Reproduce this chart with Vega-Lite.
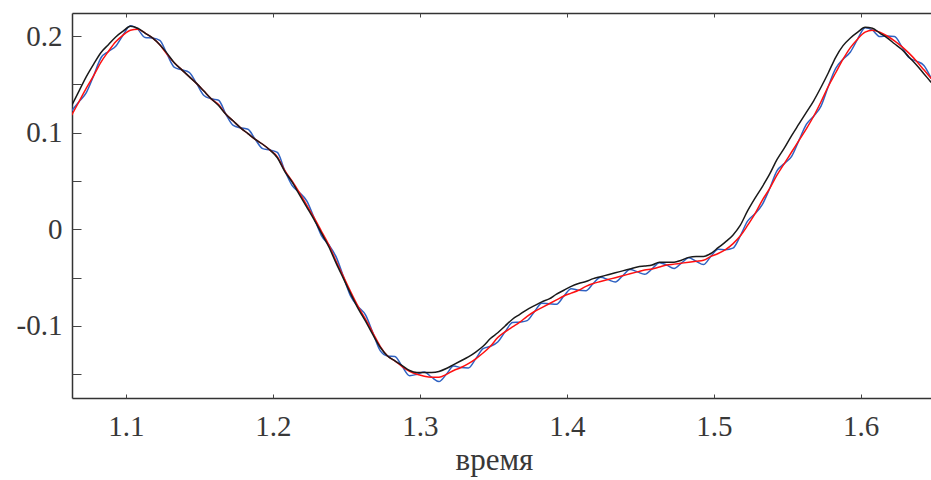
{
  "$schema": "https://vega.github.io/schema/vega-lite/v6.json",
  "width": 859,
  "height": 385,
  "autosize": "none",
  "padding": {"left": 72, "top": 13, "right": 0, "bottom": 82},
  "background": "white",
  "datasets": {
    "blue": [
      {"t":1.063,"v":0.1225},{"t":1.068,"v":0.132},{"t":1.073,"v":0.1415},{"t":1.078,"v":0.159},
      {"t":1.083,"v":0.1775},{"t":1.088,"v":0.184},{"t":1.093,"v":0.1895},{"t":1.098,"v":0.201},
      {"t":1.103,"v":0.2105},{"t":1.108,"v":0.207},{"t":1.113,"v":0.1985},{"t":1.118,"v":0.198},
      {"t":1.123,"v":0.1955},{"t":1.128,"v":0.181},{"t":1.133,"v":0.1675},{"t":1.138,"v":0.165},
      {"t":1.143,"v":0.1625},{"t":1.148,"v":0.151},{"t":1.153,"v":0.1385},{"t":1.158,"v":0.135},
      {"t":1.163,"v":0.1335},{"t":1.168,"v":0.119},{"t":1.173,"v":0.1075},{"t":1.178,"v":0.105},
      {"t":1.183,"v":0.1035},{"t":1.188,"v":0.093},{"t":1.193,"v":0.0835},{"t":1.198,"v":0.082},
      {"t":1.203,"v":0.0795},{"t":1.208,"v":0.061},{"t":1.213,"v":0.0455},{"t":1.218,"v":0.038},
      {"t":1.223,"v":0.0295},{"t":1.228,"v":0.012},{"t":1.233,"v":-0.0065},{"t":1.238,"v":-0.016},
      {"t":1.243,"v":-0.0285},{"t":1.248,"v":-0.049},{"t":1.253,"v":-0.0695},{"t":1.258,"v":-0.080},
      {"t":1.263,"v":-0.0885},{"t":1.268,"v":-0.107},{"t":1.273,"v":-0.1255},{"t":1.278,"v":-0.131},
      {"t":1.283,"v":-0.1315},{"t":1.288,"v":-0.142},{"t":1.293,"v":-0.1515},{"t":1.298,"v":-0.150},
      {"t":1.303,"v":-0.1475},{"t":1.308,"v":-0.153},{"t":1.313,"v":-0.1575},{"t":1.318,"v":-0.150},
      {"t":1.323,"v":-0.1415},{"t":1.328,"v":-0.143},{"t":1.333,"v":-0.1435},{"t":1.338,"v":-0.134},
      {"t":1.343,"v":-0.1235},{"t":1.348,"v":-0.121},{"t":1.353,"v":-0.1165},{"t":1.358,"v":-0.106},
      {"t":1.363,"v":-0.0965},{"t":1.368,"v":-0.096},{"t":1.373,"v":-0.0945},{"t":1.378,"v":-0.085},
      {"t":1.383,"v":-0.0765},{"t":1.388,"v":-0.077},{"t":1.393,"v":-0.0775},{"t":1.398,"v":-0.069},
      {"t":1.403,"v":-0.0615},{"t":1.408,"v":-0.063},{"t":1.413,"v":-0.0635},{"t":1.418,"v":-0.056},
      {"t":1.423,"v":-0.0495},{"t":1.428,"v":-0.052},{"t":1.433,"v":-0.0545},{"t":1.438,"v":-0.048},
      {"t":1.443,"v":-0.0415},{"t":1.448,"v":-0.044},{"t":1.453,"v":-0.0465},{"t":1.458,"v":-0.041},
      {"t":1.463,"v":-0.0345},{"t":1.468,"v":-0.037},{"t":1.473,"v":-0.0405},{"t":1.478,"v":-0.035},
      {"t":1.483,"v":-0.0295},{"t":1.488,"v":-0.033},{"t":1.493,"v":-0.0365},{"t":1.498,"v":-0.028},
      {"t":1.503,"v":-0.0205},{"t":1.508,"v":-0.021},{"t":1.513,"v":-0.0195},{"t":1.518,"v":-0.007},
      {"t":1.523,"v":0.0085},{"t":1.528,"v":0.016},{"t":1.533,"v":0.0255},{"t":1.538,"v":0.042},
      {"t":1.543,"v":0.0605},{"t":1.548,"v":0.068},{"t":1.553,"v":0.0755},{"t":1.558,"v":0.092},
      {"t":1.563,"v":0.1085},{"t":1.568,"v":0.117},{"t":1.573,"v":0.1275},{"t":1.578,"v":0.148},
      {"t":1.583,"v":0.1665},{"t":1.588,"v":0.176},{"t":1.593,"v":0.1835},{"t":1.598,"v":0.197},
      {"t":1.603,"v":0.2085},{"t":1.608,"v":0.206},{"t":1.613,"v":0.1995},{"t":1.618,"v":0.200},
      {"t":1.623,"v":0.1995},{"t":1.628,"v":0.189},{"t":1.633,"v":0.1775},{"t":1.638,"v":0.174},
      {"t":1.643,"v":0.1695},{"t":1.648,"v":0.156}
    ],
    "red": [
      {"t":1.063,"v":0.118},{"t":1.068,"v":0.132},{"t":1.073,"v":0.146},{"t":1.078,"v":0.159},
      {"t":1.083,"v":0.173},{"t":1.088,"v":0.184},{"t":1.093,"v":0.194},{"t":1.098,"v":0.201},
      {"t":1.103,"v":0.206},{"t":1.108,"v":0.207},{"t":1.113,"v":0.203},{"t":1.118,"v":0.198},
      {"t":1.123,"v":0.191},{"t":1.128,"v":0.181},{"t":1.133,"v":0.172},{"t":1.138,"v":0.165},
      {"t":1.143,"v":0.158},{"t":1.148,"v":0.151},{"t":1.153,"v":0.143},{"t":1.158,"v":0.135},
      {"t":1.163,"v":0.129},{"t":1.168,"v":0.119},{"t":1.173,"v":0.112},{"t":1.178,"v":0.105},
      {"t":1.183,"v":0.099},{"t":1.188,"v":0.093},{"t":1.193,"v":0.088},{"t":1.198,"v":0.082},
      {"t":1.203,"v":0.075},{"t":1.208,"v":0.061},{"t":1.213,"v":0.050},{"t":1.218,"v":0.038},
      {"t":1.223,"v":0.025},{"t":1.228,"v":0.012},{"t":1.233,"v":-0.002},{"t":1.238,"v":-0.016},
      {"t":1.243,"v":-0.033},{"t":1.248,"v":-0.049},{"t":1.253,"v":-0.065},{"t":1.258,"v":-0.080},
      {"t":1.263,"v":-0.093},{"t":1.268,"v":-0.107},{"t":1.273,"v":-0.121},{"t":1.278,"v":-0.131},
      {"t":1.283,"v":-0.136},{"t":1.288,"v":-0.142},{"t":1.293,"v":-0.147},{"t":1.298,"v":-0.150},
      {"t":1.303,"v":-0.152},{"t":1.308,"v":-0.153},{"t":1.313,"v":-0.153},{"t":1.318,"v":-0.150},
      {"t":1.323,"v":-0.146},{"t":1.328,"v":-0.143},{"t":1.333,"v":-0.139},{"t":1.338,"v":-0.134},
      {"t":1.343,"v":-0.128},{"t":1.348,"v":-0.121},{"t":1.353,"v":-0.112},{"t":1.358,"v":-0.106},
      {"t":1.363,"v":-0.101},{"t":1.368,"v":-0.096},{"t":1.373,"v":-0.090},{"t":1.378,"v":-0.085},
      {"t":1.383,"v":-0.081},{"t":1.388,"v":-0.077},{"t":1.393,"v":-0.073},{"t":1.398,"v":-0.069},
      {"t":1.403,"v":-0.066},{"t":1.408,"v":-0.063},{"t":1.413,"v":-0.059},{"t":1.418,"v":-0.056},
      {"t":1.423,"v":-0.054},{"t":1.428,"v":-0.052},{"t":1.433,"v":-0.050},{"t":1.438,"v":-0.048},
      {"t":1.443,"v":-0.046},{"t":1.448,"v":-0.044},{"t":1.453,"v":-0.042},{"t":1.458,"v":-0.041},
      {"t":1.463,"v":-0.039},{"t":1.468,"v":-0.037},{"t":1.473,"v":-0.036},{"t":1.478,"v":-0.035},
      {"t":1.483,"v":-0.034},{"t":1.488,"v":-0.033},{"t":1.493,"v":-0.032},{"t":1.498,"v":-0.028},
      {"t":1.503,"v":-0.025},{"t":1.508,"v":-0.021},{"t":1.513,"v":-0.015},{"t":1.518,"v":-0.007},
      {"t":1.523,"v":0.004},{"t":1.528,"v":0.016},{"t":1.533,"v":0.030},{"t":1.538,"v":0.042},
      {"t":1.543,"v":0.056},{"t":1.548,"v":0.068},{"t":1.553,"v":0.080},{"t":1.558,"v":0.092},
      {"t":1.563,"v":0.104},{"t":1.568,"v":0.117},{"t":1.573,"v":0.132},{"t":1.578,"v":0.148},
      {"t":1.583,"v":0.162},{"t":1.588,"v":0.176},{"t":1.593,"v":0.188},{"t":1.598,"v":0.197},
      {"t":1.603,"v":0.204},{"t":1.608,"v":0.206},{"t":1.613,"v":0.204},{"t":1.618,"v":0.200},
      {"t":1.623,"v":0.195},{"t":1.628,"v":0.189},{"t":1.633,"v":0.182},{"t":1.638,"v":0.174},
      {"t":1.643,"v":0.165},{"t":1.648,"v":0.156}
    ],
    "black": [
      {"t":1.063,"v":0.128},{"t":1.068,"v":0.143},{"t":1.073,"v":0.158},{"t":1.078,"v":0.171},
      {"t":1.083,"v":0.183},{"t":1.088,"v":0.191},{"t":1.093,"v":0.199},{"t":1.098,"v":0.205},
      {"t":1.103,"v":0.210},{"t":1.108,"v":0.208},{"t":1.113,"v":0.203},{"t":1.118,"v":0.198},
      {"t":1.123,"v":0.191},{"t":1.128,"v":0.182},{"t":1.133,"v":0.172},{"t":1.138,"v":0.165},
      {"t":1.143,"v":0.158},{"t":1.148,"v":0.151},{"t":1.153,"v":0.143},{"t":1.158,"v":0.135},
      {"t":1.163,"v":0.128},{"t":1.168,"v":0.119},{"t":1.173,"v":0.112},{"t":1.178,"v":0.105},
      {"t":1.183,"v":0.099},{"t":1.188,"v":0.093},{"t":1.193,"v":0.088},{"t":1.198,"v":0.082},
      {"t":1.203,"v":0.074},{"t":1.208,"v":0.060},{"t":1.213,"v":0.049},{"t":1.218,"v":0.036},
      {"t":1.223,"v":0.023},{"t":1.228,"v":0.010},{"t":1.233,"v":-0.004},{"t":1.238,"v":-0.018},
      {"t":1.243,"v":-0.035},{"t":1.248,"v":-0.051},{"t":1.253,"v":-0.067},{"t":1.258,"v":-0.082},
      {"t":1.263,"v":-0.095},{"t":1.268,"v":-0.109},{"t":1.273,"v":-0.122},{"t":1.278,"v":-0.131},
      {"t":1.283,"v":-0.136},{"t":1.288,"v":-0.141},{"t":1.293,"v":-0.146},{"t":1.298,"v":-0.148},
      {"t":1.303,"v":-0.148},{"t":1.308,"v":-0.148},{"t":1.313,"v":-0.147},{"t":1.318,"v":-0.144},
      {"t":1.323,"v":-0.140},{"t":1.328,"v":-0.136},{"t":1.333,"v":-0.132},{"t":1.338,"v":-0.127},
      {"t":1.343,"v":-0.121},{"t":1.348,"v":-0.113},{"t":1.353,"v":-0.107},{"t":1.358,"v":-0.100},
      {"t":1.363,"v":-0.093},{"t":1.368,"v":-0.088},{"t":1.373,"v":-0.083},{"t":1.378,"v":-0.079},
      {"t":1.383,"v":-0.075},{"t":1.388,"v":-0.072},{"t":1.393,"v":-0.067},{"t":1.398,"v":-0.063},
      {"t":1.403,"v":-0.059},{"t":1.408,"v":-0.056},{"t":1.413,"v":-0.054},{"t":1.418,"v":-0.051},
      {"t":1.423,"v":-0.049},{"t":1.428,"v":-0.047},{"t":1.433,"v":-0.045},{"t":1.438,"v":-0.043},
      {"t":1.443,"v":-0.041},{"t":1.448,"v":-0.039},{"t":1.453,"v":-0.038},{"t":1.458,"v":-0.037},
      {"t":1.463,"v":-0.034},{"t":1.468,"v":-0.034},{"t":1.473,"v":-0.034},{"t":1.478,"v":-0.032},
      {"t":1.483,"v":-0.029},{"t":1.488,"v":-0.028},{"t":1.493,"v":-0.028},{"t":1.498,"v":-0.025},
      {"t":1.503,"v":-0.019},{"t":1.508,"v":-0.013},{"t":1.513,"v":-0.006},{"t":1.518,"v":0.004},
      {"t":1.523,"v":0.019},{"t":1.528,"v":0.032},{"t":1.533,"v":0.044},{"t":1.538,"v":0.057},
      {"t":1.543,"v":0.072},{"t":1.548,"v":0.084},{"t":1.553,"v":0.097},{"t":1.558,"v":0.109},
      {"t":1.563,"v":0.121},{"t":1.568,"v":0.133},{"t":1.573,"v":0.147},{"t":1.578,"v":0.162},
      {"t":1.583,"v":0.178},{"t":1.588,"v":0.190},{"t":1.593,"v":0.198},{"t":1.598,"v":0.204},
      {"t":1.603,"v":0.209},{"t":1.608,"v":0.208},{"t":1.613,"v":0.203},{"t":1.618,"v":0.198},
      {"t":1.623,"v":0.192},{"t":1.628,"v":0.186},{"t":1.633,"v":0.178},{"t":1.638,"v":0.170},
      {"t":1.643,"v":0.161},{"t":1.648,"v":0.152}
    ]
  },
  "layer": [
    {
      "data": {"name": "blue"},
      "mark": {"type": "line", "color": "#2f62c2", "strokeWidth": 1.5, "clip": true, "interpolate": "monotone"},
      "encoding": {
        "x": {
          "field": "t", "type": "quantitative",
          "scale": {"domain": [1.06325, 1.64785], "nice": false, "zero": false},
          "axis": {
            "orient": "bottom",
            "values": [1.1, 1.2, 1.3, 1.4, 1.5, 1.6],
            "format": ".1f",
            "grid": false,
            "ticks": false,
            "domainColor": "#333333",
            "domainWidth": 1.5,
            "labelFont": "Liberation Serif",
            "labelFontSize": 29,
            "labelColor": "#383838",
            "labelPadding": 14,
            "labelFlush": false,
            "labelOverlap": false,
            "title": "время",
            "titleFont": "Liberation Serif",
            "titleFontSize": 31,
            "titleFontWeight": "normal",
            "titleColor": "#383838",
            "titleX": 422,
            "titleAlign": "center",
            "titleY": 71,
            "titleBaseline": "alphabetic"
          }
        },
        "y": {
          "field": "v", "type": "quantitative",
          "scale": {"domain": [-0.1745, 0.2238], "nice": false, "zero": false},
          "axis": {
            "orient": "left",
            "values": [-0.1, 0, 0.1, 0.2],
            "labelExpr": "datum.value < -0.001 ? '-' + format(-datum.value, '.1f') : (datum.value < 0.001 ? '0' : format(datum.value, '.1f'))",
            "grid": false,
            "ticks": false,
            "domainColor": "#333333",
            "domainWidth": 1.5,
            "labelFont": "Liberation Serif",
            "labelFontSize": 29,
            "labelColor": "#383838",
            "labelPadding": 10,
            "labelOverlap": false,
            "labelFlush": false,
            "title": null
          }
        }
      }
    },
    {
      "data": {"name": "red"},
      "mark": {"type": "line", "color": "#ff1010", "strokeWidth": 1.5, "clip": true, "interpolate": "monotone"},
      "encoding": {
        "x": {
          "field": "t", "type": "quantitative",
          "scale": {"domain": [1.06325, 1.64785], "nice": false, "zero": false},
          "axis": {
            "orient": "bottom",
            "offset": -4,
            "values": [1.1, 1.2, 1.3, 1.4, 1.5, 1.6],
            "labels": false,
            "domain": false,
            "grid": false,
            "ticks": true,
            "tickSize": 4,
            "tickColor": "#444444",
            "tickWidth": 1,
            "title": null
          }
        },
        "y": {
          "field": "v", "type": "quantitative",
          "axis": {
            "orient": "left",
            "offset": -9,
            "values": [-0.15, -0.1, -0.05, 0, 0.05, 0.1, 0.15, 0.2],
            "labels": false,
            "domain": false,
            "grid": false,
            "ticks": true,
            "tickSize": 9,
            "tickColor": "#444444",
            "tickWidth": 1,
            "title": null
          }
        }
      }
    },
    {
      "data": {"name": "red"},
      "mark": {"type": "line", "color": "#ffffff", "opacity": 0, "strokeWidth": 1, "clip": true},
      "encoding": {
        "x": {
          "field": "t", "type": "quantitative",
          "axis": {
            "orient": "top",
            "values": [1.1, 1.2, 1.3, 1.4, 1.5, 1.6],
            "labels": false,
            "ticks": false,
            "grid": false,
            "domainColor": "#333333",
            "domainWidth": 1.5,
            "title": null
          }
        },
        "y": {"field": "v", "type": "quantitative", "axis": null}
      }
    },
    {
      "data": {"name": "black"},
      "mark": {"type": "line", "color": "#1a1a1a", "strokeWidth": 1.5, "clip": true, "interpolate": "monotone"},
      "encoding": {
        "x": {
          "field": "t", "type": "quantitative",
          "axis": {
            "orient": "top",
            "offset": -4,
            "values": [1.1, 1.2, 1.3, 1.4, 1.5, 1.6],
            "labels": false,
            "domain": false,
            "grid": false,
            "ticks": true,
            "tickSize": 4,
            "tickColor": "#444444",
            "tickWidth": 1,
            "title": null
          }
        },
        "y": {"field": "v", "type": "quantitative", "axis": null}
      }
    }
  ],
  "resolve": {"axis": {"x": "independent", "y": "independent"}},
  "config": {"view": {"stroke": null}}
}
